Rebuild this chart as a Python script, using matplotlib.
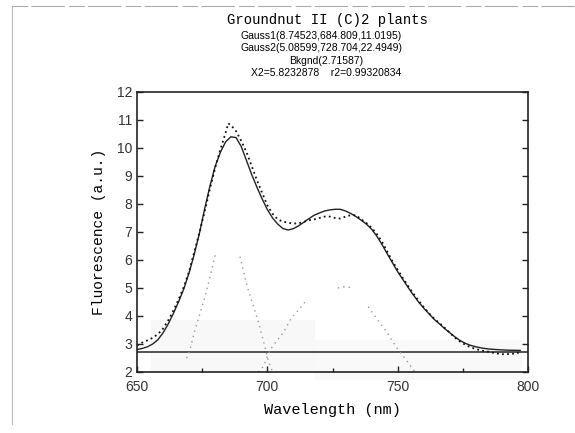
import matplotlib
matplotlib.use("Agg")
import matplotlib.pyplot as plt
from matplotlib.patches import Rectangle
from matplotlib.lines import Line2D
import numpy as np

# measured spectrum (dotted)
wl_data = [650, 652, 654, 656, 658, 660, 662, 664, 666, 668, 670, 672, 674, 676,
           678, 680, 682, 684, 685, 686, 688, 690, 692, 694, 696, 698, 700, 702,
           704, 706, 708, 710, 712, 714, 716, 718, 720, 722, 724, 726, 728, 730,
           732, 734, 736, 738, 740, 742, 744, 746, 748, 750, 752, 754, 756, 758,
           760, 762, 764, 766, 768, 770, 772, 774, 776, 778, 780, 782, 785, 788,
           791, 794, 797]
fl_data = [2.95, 3.05, 3.13, 3.22, 3.35, 3.55, 3.85, 4.2, 4.6, 5.05, 5.6, 6.3, 7.0, 7.75,
           8.55, 9.3, 9.95, 10.55, 10.88, 10.82, 10.6, 10.25, 9.85, 9.35, 8.85, 8.4, 7.95, 7.65,
           7.45, 7.37, 7.33, 7.3, 7.31, 7.36, 7.42, 7.45, 7.5, 7.55, 7.55, 7.5, 7.48, 7.55,
           7.6, 7.6, 7.45, 7.32, 7.15, 6.93, 6.65, 6.3, 5.95, 5.65, 5.35, 5.07, 4.8, 4.55,
           4.32, 4.1, 3.9, 3.75, 3.58, 3.4, 3.22, 3.08, 2.97, 2.88, 2.82, 2.77, 2.72, 2.66,
           2.63, 2.65, 2.7]

# two-gaussian fit (solid)
wl_fit = [650, 652, 654, 656, 658, 660, 662, 664, 666, 668, 670, 672, 674, 676,
          678, 680, 682, 684, 686, 688, 690, 692, 694, 696, 698, 700, 702, 704,
          706, 708, 710, 712, 714, 716, 718, 720, 722, 724, 726, 728, 730, 732,
          734, 736, 738, 740, 742, 744, 746, 748, 750, 752, 754, 756, 758, 760,
          762, 764, 766, 768, 770, 772, 774, 776, 778, 780, 782, 785, 788, 792, 797]
fl_fit = [2.80, 2.84, 2.90, 3.00, 3.15, 3.40, 3.72, 4.10, 4.52, 4.98, 5.55, 6.22, 6.98, 7.85,
          8.65, 9.35, 9.85, 10.22, 10.40, 10.37, 10.05, 9.55, 9.05, 8.60, 8.18, 7.80, 7.50, 7.28,
          7.12, 7.07, 7.12, 7.22, 7.35, 7.48, 7.60, 7.68, 7.75, 7.79, 7.81, 7.81, 7.75, 7.66,
          7.55, 7.42, 7.28, 7.10, 6.85, 6.55, 6.22, 5.90, 5.58, 5.30, 5.02, 4.75, 4.50, 4.28,
          4.08, 3.88, 3.72, 3.55, 3.40, 3.25, 3.12, 3.02, 2.95, 2.90, 2.86, 2.82, 2.80, 2.78, 2.77]

# fitted components (only the printed parts)
wl_g1 = [669.0, 670.3, 672.2, 674.2, 676.1, 678.0, 680.0, np.nan,
         689.5, 692.1, 694.5, 696.5, 698.5, 700.4, 702.0]
fl_g1 = [2.49, 2.79, 3.5, 4.1, 4.69, 5.4, 6.18, np.nan,
         6.12, 5.1, 4.4, 3.8, 3.1, 2.4, 2.0]
wl_g2 = [696.5, 698.5, 701, 703.5, 706.1, 709, 712.5, 715.1, np.nan,
         727, 730, 733, np.nan,
         738.7, 742, 745.7, 748, 750.2, 753.5, 756.6]
fl_g2 = [2.0, 2.2, 2.79, 3.1, 3.4, 3.9, 4.27, 4.57, np.nan,
         5.0, 5.05, 5.0, np.nan,
         4.33, 3.9, 3.44, 3.1, 2.79, 2.4, 2.0]

bkgnd = 2.71587

title_lines = ["Gauss1(8.74523,684.809,11.0195)",
               "Gauss2(5.08599,728.704,22.4949)",
               "Bkgnd(2.71587)",
               "X2=5.8232878    r2=0.99320834"]

fig = plt.figure(figsize=(5.75, 4.33), dpi=100)
ax = fig.add_axes([0.2383, 0.1409, 0.68, 0.6467])

# faint scanner shading near the baseline
ax.add_patch(Rectangle((0.035, 0.0), 0.42, 0.185, transform=ax.transAxes,
                       facecolor='#f8f8f8', edgecolor='none', zorder=0, clip_on=False))
ax.add_patch(Rectangle((0.455, -0.03), 0.53, 0.145, transform=ax.transAxes,
                       facecolor='#f9f9f9', edgecolor='none', zorder=0, clip_on=False))

ax.axhline(bkgnd, color='#444444', lw=1.3, zorder=2)
ax.plot(wl_g1, fl_g1, ls=(0, (1, 3)), color='#999999', lw=1.0)
ax.plot(wl_g2, fl_g2, ls=(0, (1, 3)), color='#999999', lw=1.0)
ax.plot(wl_fit, fl_fit, color='#222222', lw=1.0)
ax.plot(wl_data, fl_data, ls=(0, (1, 1.8)), color='#111111', lw=1.3)

ax.set_xlim(650, 800)
ax.set_ylim(2, 12)
ax.set_xticks([650, 700, 750, 800])
ax.set_xticks([675, 725, 775], minor=True)
ax.set_yticks(range(2, 13))
ax.tick_params(which='both', direction='in', right=True, top=False, labelsize=10,
               width=1.0, colors='#222222')
ax.tick_params(which='major', length=4)
ax.tick_params(which='minor', length=3)
ax.tick_params(axis='x', pad=6)
for lab in ax.get_xticklabels() + ax.get_yticklabels():
    lab.set_fontfamily('Liberation Sans')
    lab.set_color('#333333')
for sp in ax.spines.values():
    sp.set_color('#222222')
    sp.set_linewidth(1.2)

ax.set_xlabel('Wavelength (nm)', family='Liberation Mono', fontsize=11, labelpad=6)
ax.set_ylabel('Fluorescence (a.u.)', family='Liberation Mono', fontsize=10.5, labelpad=8)

fig.text(0.569, 0.954, 'Groundnut II (C)2 plants', ha='center', va='center',
         family='Liberation Mono', fontsize=10)
for i, (txt, yy) in enumerate(zip(title_lines, [0.917, 0.888, 0.859, 0.831])):
    fig.text(0.559 + (0.008 if i >= 2 else 0), yy, txt, ha='center', va='center',
             family=['Liberation Sans Narrow', 'Liberation Sans'], fontsize=7.5)

# edge of the scanned page
fig.lines.append(Line2D([0.021, 0.021], [0.02, 0.985], transform=fig.transFigure,
                        color='#bbbbbb', lw=0.8))
fig.lines.append(Line2D([0.021, 1.0], [0.985, 0.985], transform=fig.transFigure,
                        color='#aaaaaa', lw=0.8, ls=(0, (14, 3, 30, 4))))

fig.savefig('out.png', dpi=100)
